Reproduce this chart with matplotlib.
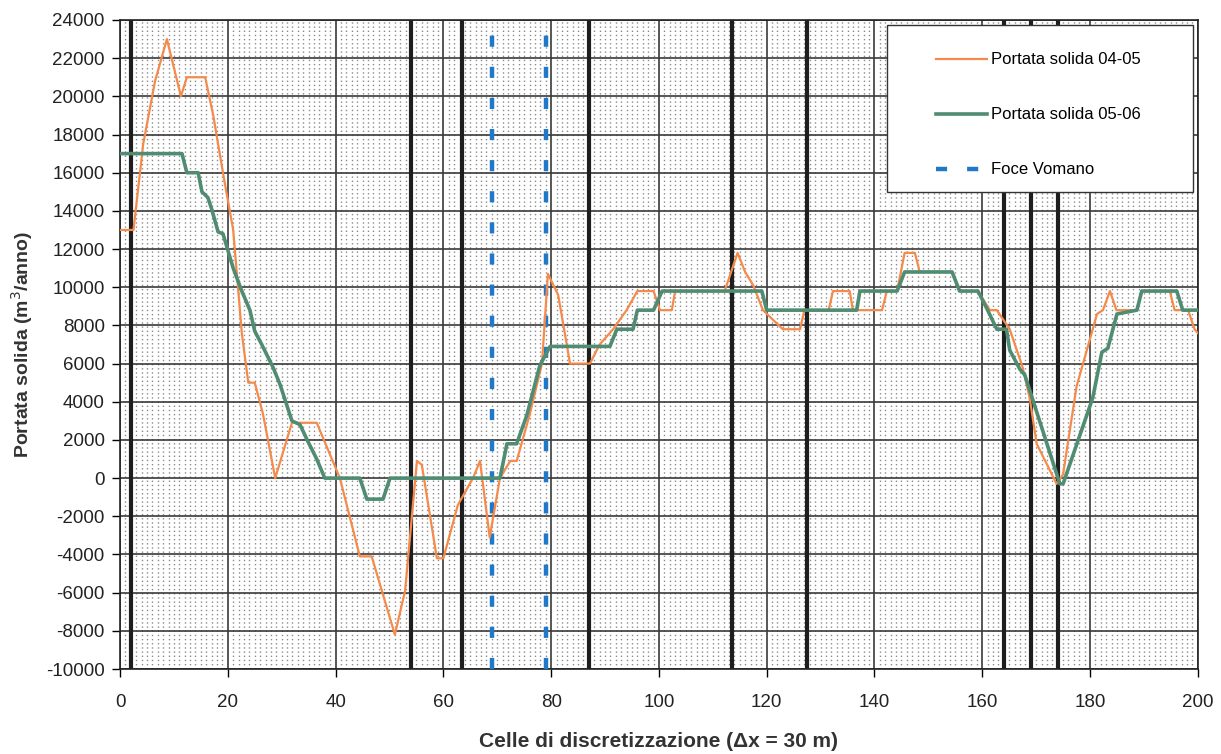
import numpy as np
import matplotlib.pyplot as plt
from matplotlib.ticker import MultipleLocator
from matplotlib.patches import Rectangle

# Portata solida 04-05 (breakpoints)
x_0405 = [0, 2.5, 4.3, 6.5, 8.7, 11.3, 12.4, 15.8, 17.3, 19.1, 21, 22.6, 23.8, 25, 26.5,
          28.8, 31.9, 36.5, 40.8, 44.5, 46.7, 51, 52.9, 55.1, 56, 58.8, 60, 62.7, 65.5,
          66.8, 68.6, 70.5, 72.4, 73.6, 76, 78.3, 79.4, 81.3, 82.9, 83.5, 87.2, 89, 91.5,
          94, 96, 99, 100.2, 102.4, 103, 112.2, 114.6, 116, 117.5, 119.3, 123, 126.2, 127,
          131.5, 132.3, 135.4, 136, 141.4, 142.3, 144.2, 145.6, 147.5, 148.4, 154.4, 155.8,
          159.2, 161.4, 162.7, 165.1, 167.5, 168.8, 170.1, 173.8, 175, 177.5, 181.3, 182.4,
          183.7, 184.9, 188.7, 189.6, 194.8, 195.7, 198.2, 199.4, 200]
y_0405 = [13000, 13000, 17500, 20800, 23000, 20000, 21000, 21000, 19000, 16000, 13000, 7600,
          5000, 5000, 3400, 0, 2900, 2900, 0, -4100, -4100, -8200, -5900, 900, 700, -4200,
          -4200, -1400, 0, 900, -3100, 0, 900, 900, 3300, 6000, 10700, 9600, 7000, 6000, 6000,
          7000, 7800, 8800, 9800, 9800, 8800, 8800, 9800, 9800, 11800, 10800, 10100, 8800,
          7800, 7800, 8800, 8800, 9800, 9800, 8800, 8800, 9800, 9800, 11800, 11800, 10800,
          10800, 9800, 9800, 8800, 8800, 7800, 5800, 4200, 1800, -300, 200, 4800, 8600, 8800,
          9800, 8800, 8800, 9800, 9800, 8800, 8800, 7800, 7600]

# Portata solida 05-06
x_0506 = [0, 11.5, 12.4, 14.5, 15.2, 16.3, 17, 18.2, 19.1, 21, 22.6, 24.1, 25, 26.3, 28.4,
          29.7, 31.9, 33.4, 34.9, 36.5, 38, 44.5, 45.8, 48.8, 50.1, 70.5, 71.8, 73.6, 75.5,
          77.9, 79.8, 90.9, 92.2, 95.2, 96, 99, 100.6, 119.1, 120, 136.7, 137.3, 144.2, 145.6,
          154.4, 155.8, 159.2, 161, 162.7, 164.5, 165.1, 167, 167.9, 174.4, 175, 180.5, 182.2,
          183.3, 185, 188.7, 189.6, 196.1, 197.2, 200]
y_0506 = [17000, 17000, 16000, 16000, 15000, 14700, 14100, 12900, 12800, 11000, 9800, 8800,
          7700, 7000, 5800, 4900, 3000, 2800, 1900, 1000, 0, 0, -1100, -1100, 0, 0, 1800, 1800,
          3300, 5900, 6900, 6900, 7800, 7800, 8800, 8800, 9800, 9800, 8800, 8800, 9800, 9800,
          10800, 10800, 9800, 9800, 8800, 7800, 7800, 6700, 5700, 5400, -300, -300, 4200, 6600,
          6800, 8600, 8800, 9800, 9800, 8800, 8800]

# section boundaries (black) and river mouth (blue dotted)
x_sezioni = [2, 54, 63.5, 87, 113.5, 127.5, 164, 169, 174]
x_foce = [69, 79]

plt.rcParams['font.family'] = ['Liberation Sans', 'DejaVu Sans']
plt.rcParams['axes.unicode_minus'] = False

fig = plt.figure(figsize=(12.21, 7.54), dpi=100)
ax = fig.add_axes([0.0983, 0.1127, 0.8827, 0.8608])

ax.set_xlim(0, 200)
ax.set_ylim(-10000, 24000)
ax.xaxis.set_major_locator(MultipleLocator(20))
ax.yaxis.set_major_locator(MultipleLocator(2000))
ax.xaxis.set_minor_locator(MultipleLocator(1))

ax.grid(which='major', color='#3a3a3a', linewidth=1.2, zorder=0)
ax.grid(which='minor', axis='x', color='#8a8a8a', linewidth=1.0, linestyle=(0, (1, 2)), zorder=0)
ax.tick_params(which='minor', length=0)
ax.tick_params(which='major', direction='out', length=6, width=1, labelsize=13.5,
               labelcolor='#222222')
ax.tick_params(axis='x', pad=12)
ax.tick_params(axis='y', pad=5)

for xs in x_sezioni:
    ax.axvline(xs, color='#1e1e1e', linewidth=3.0, zorder=2)

for i, xf in enumerate(x_foce):
    ax.axvline(xf, color='#1f78c8', linewidth=3.2, linestyle=(0, (2.5, 4.5)), zorder=3,
               label='Foce Vomano' if i == 0 else None)

ax.plot(x_0405, y_0405, color='#f58a4a', linewidth=1.6, zorder=4, label='Portata solida 04-05')
ax.plot(x_0506, y_0506, color='#4f8c72', linewidth=2.6, zorder=5, label='Portata solida 05-06')

# legend box
ax.add_patch(Rectangle((0.712, 0.735), 0.284, 0.258, transform=ax.transAxes,
                       facecolor='white', edgecolor='#333333', linewidth=1.0, zorder=9))
handles, labels = ax.get_legend_handles_labels()
order = [labels.index('Portata solida 04-05'), labels.index('Portata solida 05-06'),
         labels.index('Foce Vomano')]
leg = ax.legend([handles[i] for i in order], [labels[i] for i in order],
                loc='upper left', bbox_to_anchor=(0.757, 0.950), fontsize=12,
                labelspacing=2.4, handlelength=3.05, borderpad=0, handletextpad=0.25,
                frameon=False, borderaxespad=0)
leg.set_zorder(10)

for sp in ax.spines.values():
    sp.set_color('#222222')
    sp.set_linewidth(1.2)

ax.set_xlabel('Celle di discretizzazione (\u0394x = 30 m)', fontsize=15, fontweight='bold',
              color='#333333', labelpad=15)
ax.set_ylabel('Portata solida (m$^3$/anno)', fontsize=14, fontweight='bold',
              color='#333333', labelpad=8)

fig.savefig('out.png', dpi=100)
